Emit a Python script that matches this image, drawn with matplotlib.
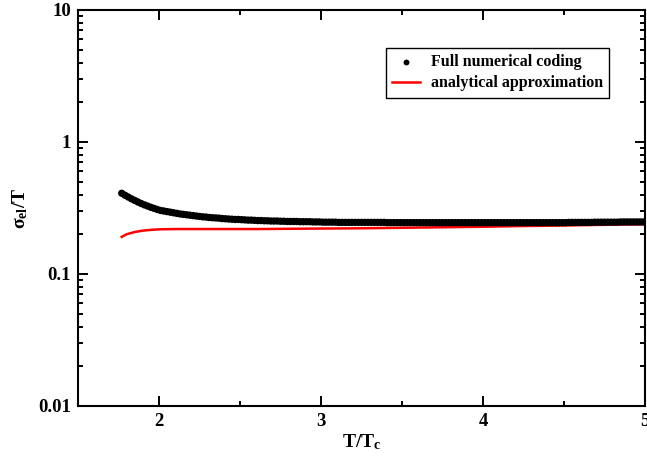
import numpy as np
import matplotlib
matplotlib.use('Agg')
import matplotlib.pyplot as plt
from matplotlib.ticker import MultipleLocator, LogLocator, FixedFormatter, FixedLocator, NullFormatter

plt.rcParams['font.family'] = ['Liberation Serif', 'DejaVu Serif']
plt.rcParams['mathtext.fontset'] = 'custom'
plt.rcParams['mathtext.rm'] = 'Liberation Serif'
plt.rcParams['mathtext.bf'] = 'Liberation Serif:bold'
plt.rcParams['mathtext.it'] = 'Liberation Serif:italic'

# full numerical result, sampled every 0.02 in T/Tc
t_num = np.round(np.arange(1.77, 5.0, 0.02), 2)
sigma_num = [
    0.409, 0.395, 0.383, 0.371, 0.361, 0.351, 0.342, 0.334, 0.327, 0.320, 0.314, 0.308,
    0.303, 0.300, 0.297, 0.294, 0.291, 0.288, 0.285, 0.283, 0.281, 0.279,
    0.277, 0.275, 0.273, 0.271, 0.270, 0.268, 0.267, 0.266, 0.265, 0.263,
    0.262, 0.261, 0.260, 0.259, 0.259, 0.258, 0.257, 0.256, 0.256, 0.255,
    0.254, 0.254, 0.253, 0.253, 0.252, 0.252, 0.252, 0.251, 0.251, 0.250,
    0.250, 0.250, 0.250, 0.249, 0.249, 0.249, 0.249, 0.248, 0.248, 0.248,
    0.247, 0.247, 0.247, 0.247, 0.247, 0.246, 0.246, 0.246, 0.246, 0.246,
    0.246, 0.246, 0.246, 0.246, 0.246, 0.246, 0.246, 0.246, 0.246, 0.246,
    0.245, 0.245, 0.245, 0.245, 0.245, 0.245, 0.245, 0.245, 0.245, 0.245,
    0.245, 0.245, 0.245, 0.245, 0.245, 0.245, 0.245, 0.245, 0.245, 0.245,
    0.245, 0.245, 0.245, 0.245, 0.245, 0.245, 0.245, 0.245, 0.245, 0.245,
    0.245, 0.245, 0.245, 0.245, 0.245, 0.245, 0.245, 0.245, 0.245, 0.245,
    0.245, 0.245, 0.245, 0.245, 0.245, 0.245, 0.245, 0.245, 0.245, 0.245,
    0.245, 0.245, 0.245, 0.245, 0.245, 0.245,
    0.246, 0.246, 0.246, 0.246, 0.246, 0.246, 0.246, 0.246,
    0.247, 0.247, 0.247, 0.247, 0.247, 0.247, 0.247, 0.247,
    0.248, 0.248, 0.248, 0.248, 0.248, 0.248, 0.248, 0.248,
]

# analytical approximation
t_ana = [1.77, 1.80, 1.85, 1.90, 1.95, 2.0, 2.1, 2.2, 2.4, 2.6, 2.8,
         3.0, 3.25, 3.5, 3.75, 4.0, 4.25, 4.5, 4.75, 5.0]
sigma_ana = [0.191, 0.200, 0.208, 0.213, 0.216, 0.218, 0.219, 0.219, 0.219, 0.219, 0.220,
             0.221, 0.222, 0.224, 0.226, 0.228, 0.231, 0.233, 0.236, 0.238]

y_ticks = [0.01, 0.1, 1, 10]
y_ticklabels = ['0.01', '0.1', '1', '10']
x_ticks = [2, 3, 4, 5]

fig = plt.figure(figsize=(6.47, 4.66), dpi=100)
ax = fig.add_subplot(111)
fig.subplots_adjust(left=78/647, right=645/647, top=1-10/466, bottom=1-406/466)

# one size per point: stops Agg stamping the dots at whole-pixel positions
dot_sizes = np.full(len(t_num), 5.3**2)
ax.scatter(t_num, sigma_num, s=dot_sizes, color='black', linewidths=0,
           label='Full numerical coding', zorder=3)
ax.plot(t_ana, sigma_ana, '-', color='#ff0000', linewidth=1.8,
        label='analytical approximation', zorder=2)

ax.set_yscale('log')
ax.set_xlim(1.5, 5.0)
ax.set_ylim(0.01, 10)

ax.xaxis.set_major_locator(FixedLocator(x_ticks))
ax.xaxis.set_minor_locator(MultipleLocator(0.5))
ax.yaxis.set_major_locator(FixedLocator(y_ticks))
ax.yaxis.set_major_formatter(FixedFormatter(y_ticklabels))
ax.yaxis.set_minor_locator(LogLocator(base=10, subs=np.arange(2, 10)))
ax.yaxis.set_minor_formatter(NullFormatter())

ax.tick_params(which='both', direction='in', top=True, right=True, width=1.4)
ax.tick_params(which='major', length=7.2, labelsize=13.5, pad=5)
ax.tick_params(which='minor', length=3.6)
for lab in ax.get_xticklabels() + ax.get_yticklabels():
    lab.set_fontweight('bold')
for sp in ax.spines.values():
    sp.set_linewidth(1.5)

ax.set_xlabel(r'T/T$_{\mathbf{c}}$', fontsize=14, fontweight='bold', labelpad=2)
ax.set_ylabel(r'σ$_{\mathbf{el}}$/T', fontsize=14, fontweight='bold', labelpad=6)

leg = ax.legend(loc='upper right', bbox_to_anchor=(0.937, 0.904), borderaxespad=0,
                fancybox=False, framealpha=1, edgecolor='black', handlelength=1.7,
                handletextpad=0.7, scatterpoints=1,
                prop={'family': 'Liberation Serif', 'weight': 'bold', 'size': 11.5},
                markerscale=0.8, borderpad=0.4, labelspacing=0.3)
leg.get_frame().set_linewidth(1.0)

fig.savefig('out.png', dpi=100)
